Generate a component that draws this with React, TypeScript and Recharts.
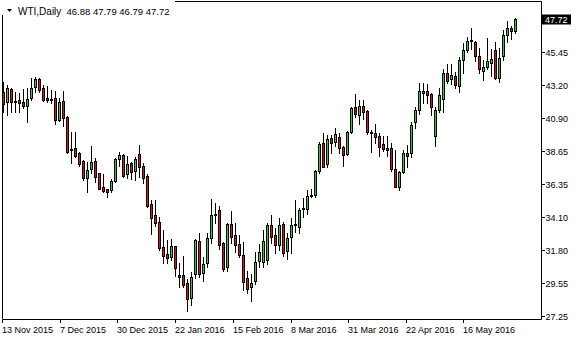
import React from "react";
import { ComposedChart, Bar, XAxis, YAxis, ReferenceArea } from "recharts";

// daily WTI bars (oldest first)
const opens = [
  42.71, 41.98, 42.9, 42.05, 42.16, 42.02, 41.7, 42.25, 43.01, 43.59, 42.99, 42.3, 42.23, 42.25, 40.78, 42.07,
  40.97, 38.76, 38.81, 38.48, 37.93, 36.78, 37.36, 37.93, 37.09, 36.12, 35.98, 35.94, 36.58, 38.05, 38.35, 37.02,
  37.8, 37.27, 38.4, 37.59, 36.9, 34.97, 34.21, 33.73, 32.01, 31.52, 31.32, 32.05, 30.08, 30.08, 29.53, 28.49,
  30.15, 32.42, 30.21, 30.9, 32.63, 34.25, 34.56, 32.28, 30.63, 33.59, 32.83, 32.21, 31.46, 29.87, 29.25, 29.66,
  31.04, 30.97, 31.11, 33.52, 32.83, 32.14, 33.59, 31.73, 32.7, 33.54, 33.39, 34.66, 34.63, 35.52, 35.59, 37.24,
  39.17, 37.73, 39.52, 39.24, 39.59, 38.9, 38.42, 39.93, 41.66, 41.1, 41.72, 41.38, 39.93, 39.86, 39.66, 39.1,
  38.83, 38.83, 37.38, 36.14, 37.18, 38.48, 38.48, 40.62, 41.45, 42.76, 42.76, 42.55, 39.66, 41.45, 42.21, 44.0,
  43.58, 43.79, 43.1, 44.89, 45.58, 46.2, 46.14, 45.17, 44.14, 44.41, 44.69, 45.58, 43.65, 45.17, 46.62, 47.1,
  46.88,
];
const highs = [
  43.4, 43.17, 42.99, 42.71, 42.6, 42.9, 42.99, 43.67, 43.74, 43.67, 43.17, 43.12, 42.83, 42.76, 42.25, 42.76,
  41.06, 39.95, 39.95, 38.58, 38.0, 37.89, 38.97, 38.12, 37.13, 37.04, 36.02, 36.67, 38.12, 38.58, 38.42, 38.28,
  37.86, 38.23, 39.04, 37.78, 37.04, 35.25, 35.25, 34.07, 33.18, 32.49, 32.56, 32.07, 30.9, 31.39, 29.8, 30.28,
  32.56, 32.97, 31.32, 32.97, 35.31, 35.04, 34.83, 32.35, 33.66, 34.49, 33.66, 32.83, 32.35, 30.35, 30.15, 31.66,
  32.21, 33.18, 33.66, 34.21, 33.32, 34.0, 33.73, 32.97, 34.0, 35.25, 34.7, 35.38, 35.94, 36.0, 37.31, 39.24,
  39.86, 39.72, 39.72, 40.21, 39.86, 38.97, 40.0, 41.66, 42.55, 42.14, 42.14, 41.45, 40.07, 40.48, 39.86, 39.66,
  39.66, 39.17, 38.69, 37.24, 38.69, 39.04, 40.62, 41.66, 43.31, 43.31, 43.24, 42.62, 41.66, 42.97, 44.27, 44.62,
  44.62, 44.07, 45.1, 46.07, 46.48, 47.1, 46.2, 45.72, 44.89, 46.41, 45.65, 46.14, 45.72, 46.96, 47.58, 47.24,
  47.79,
];
const lows = [
  41.33, 41.1, 41.33, 41.33, 41.29, 41.57, 40.6, 42.12, 42.71, 42.71, 42.07, 41.98, 41.91, 40.46, 40.69, 40.37,
  38.46, 37.78, 38.23, 37.61, 36.62, 35.82, 37.09, 36.51, 35.98, 35.82, 35.47, 35.8, 36.47, 37.59, 36.85, 36.74,
  36.67, 36.62, 36.85, 36.44, 34.76, 32.9, 33.45, 31.8, 30.9, 30.9, 31.11, 30.01, 29.25, 29.25, 27.6, 28.01,
  29.87, 29.94, 29.66, 30.63, 32.28, 33.66, 31.87, 30.35, 30.35, 32.28, 31.66, 31.32, 29.04, 28.84, 28.28, 29.46,
  30.63, 30.63, 30.84, 32.28, 31.59, 31.8, 31.39, 31.18, 31.59, 33.04, 32.97, 34.07, 34.28, 35.45, 35.45, 37.11,
  37.49, 37.52, 38.48, 38.97, 38.48, 37.59, 38.35, 39.86, 40.97, 40.48, 40.83, 39.79, 38.55, 39.17, 38.28, 38.62,
  38.28, 37.24, 36.11, 35.94, 37.11, 37.52, 38.21, 40.21, 41.17, 41.93, 41.93, 41.1, 38.97, 41.31, 41.31, 43.31,
  43.24, 42.97, 42.69, 44.0, 45.45, 45.65, 44.83, 44.0, 43.52, 44.27, 43.79, 43.62, 43.38, 44.89, 46.14, 46.34,
  46.79,
];
const closes = [
  41.84, 42.94, 41.98, 42.0, 41.93, 41.7, 42.21, 42.94, 43.59, 42.81, 42.12, 42.12, 42.12, 40.74, 42.02, 40.88,
  38.58, 38.67, 38.26, 37.71, 36.78, 37.31, 37.86, 36.85, 36.02, 35.89, 35.82, 36.56, 38.05, 38.33, 36.9, 37.73,
  37.2, 38.05, 37.5, 36.78, 34.83, 34.0, 33.66, 31.94, 31.39, 31.25, 32.07, 30.56, 29.94, 29.39, 28.42, 29.94,
  32.49, 30.15, 30.84, 32.63, 34.21, 34.21, 32.14, 30.49, 33.59, 32.7, 32.14, 31.46, 29.59, 29.11, 29.53, 30.97,
  31.66, 32.42, 33.52, 32.7, 32.14, 33.52, 31.59, 32.63, 33.52, 33.57, 34.56, 34.68, 35.52, 35.58, 37.24, 39.1,
  37.52, 39.45, 39.17, 39.79, 38.83, 38.35, 39.93, 41.59, 41.17, 41.72, 41.31, 39.93, 39.88, 39.59, 38.9, 38.76,
  38.69, 37.38, 36.14, 37.18, 38.48, 38.28, 40.41, 41.45, 42.76, 42.62, 42.48, 41.66, 41.45, 42.48, 44.0, 43.45,
  43.86, 43.17, 44.89, 45.58, 46.2, 46.27, 45.17, 44.27, 44.41, 44.83, 44.96, 43.65, 45.03, 46.62, 47.1, 46.89,
  47.72,
];

// time scale: tick positions (in bars) and their labels
const dateTicks = [-0.2, 14.2, 28.6, 43.0, 57.5, 71.9, 86.3, 100.7, 115.1];
const dateLabels = [
  "13 Nov 2015",
  "7 Dec 2015",
  "30 Dec 2015",
  "22 Jan 2016",
  "15 Feb 2016",
  "8 Mar 2016",
  "31 Mar 2016",
  "22 Apr 2016",
  "16 May 2016",
];
const priceTicks = [27.25, 29.55, 31.8, 34.1, 36.35, 38.65, 40.9, 43.2, 45.45];
const lastPrice = 47.72;
const header = "46.88 47.79 46.79 47.72";

const X_DOMAIN: [number, number] = [-0.25, 134.5];
const Y_DOMAIN: [number, number] = [27.01, 48.93];
const FONT = "'Liberation Sans', Arial, sans-serif";
const UP = "#32CD32";
const DOWN = "#E01010";

const data = opens.map((o, i) => ({
  i,
  range: [lows[i], highs[i]],
  open: o,
  high: highs[i],
  low: lows[i],
  close: closes[i],
}));

function Candle(props: any) {
  const { x, y, width, height, payload } = props;
  if (!payload) return null;
  const { open, close, high, low } = payload;
  const top0 = Math.min(y, y + height);
  const h = Math.abs(height);
  const cx = Math.floor(x + width / 2) + 0.5;
  const span = high - low;
  const toY = (v: number) => (span > 0 ? top0 + ((high - v) / span) * h : top0);
  const yH = Math.round(top0);
  const yL = Math.round(top0 + h);
  const bTop = Math.round(toY(Math.max(open, close)));
  const bBot = Math.round(toY(Math.min(open, close)));
  const up = close >= open;
  return (
    <g>
      <line x1={cx} x2={cx} y1={yH} y2={yL + 1} stroke="#000" strokeWidth={1} />
      <rect x={cx - 1.5} y={bTop} width={3} height={bBot - bTop + 1} fill="#000" />
      {bBot - bTop >= 2 && (
        <rect x={cx - 0.5} y={bTop + 1} width={1} height={bBot - bTop - 1} fill={up ? UP : DOWN} />
      )}
    </g>
  );
}

function DateTick(props: any) {
  const { x, y, index } = props;
  const tx = Math.floor(x) + 0.5;
  return (
    <g>
      <line x1={tx} x2={tx} y1={y + 0.5} y2={y + 3.5} stroke="#000" />
      <text x={tx - 0.5} y={y + 13} fontSize={9} fontFamily={FONT} fill="#000" textAnchor="start">
        {dateLabels[index]}
      </text>
    </g>
  );
}

function PriceTick(props: any) {
  const { x, y, payload } = props;
  const ty = Math.round(y) + 0.5;
  const v = payload.value as number;
  if (v === lastPrice) {
    return (
      <g>
        <rect x={541} y={ty - 5} width={30} height={10} fill="#000" />
        <text x={545} y={ty + 3.5} fontSize={9} fontFamily={FONT} fill="#fff">
          {v.toFixed(2)}
        </text>
      </g>
    );
  }
  return (
    <g>
      <line x1={x + 0.5} x2={x + 3.5} y1={ty} y2={ty} stroke="#000" />
      <text x={x + 4} y={ty + 3.5} fontSize={9} fontFamily={FONT} fill="#000">
        {v.toFixed(2)}
      </text>
    </g>
  );
}

export default function App() {
  return (
    <div style={{ position: "absolute", left: 0, top: 0, width: 580, height: 340, background: "#fff" }}>
      <ComposedChart
        width={580}
        height={340}
        data={data}
        margin={{ top: 1.5, right: 0, bottom: 0, left: 2.5 }}
      >
        <XAxis
          dataKey="i"
          type="number"
          domain={X_DOMAIN}
          allowDataOverflow
          ticks={dateTicks}
          interval={0}
          height={20.5}
          axisLine={false}
          tickLine={false}
          tickSize={0}
          tickMargin={0}
          tick={<DateTick />}
        />
        <YAxis
          orientation="right"
          type="number"
          domain={Y_DOMAIN}
          allowDataOverflow
          ticks={[...priceTicks, lastPrice]}
          interval={0}
          width={38.5}
          axisLine={false}
          tickLine={false}
          tickSize={0}
          tickMargin={0}
          tick={<PriceTick />}
        />
        <ReferenceArea
          x1={X_DOMAIN[0]}
          x2={X_DOMAIN[1]}
          y1={Y_DOMAIN[0]}
          y2={Y_DOMAIN[1]}
          fill="none"
          stroke="#000"
          strokeWidth={1}
          fillOpacity={0}
        />
        <Bar dataKey="range" shape={<Candle />} isAnimationActive={false} />
      </ComposedChart>
      <svg
        width={580}
        height={340}
        style={{ position: "absolute", left: 0, top: 0, pointerEvents: "none" }}
      >
        <rect x={0} y={0} width={175} height={15} fill="#fff" />
        <polygon points="7,9 12,9 9.5,12" fill="#000" />
        <text x={18} y={15} fontSize={10} fontFamily={FONT} fill="#000">
          WTI,Daily
        </text>
        <text x={66.5} y={15} fontSize={9.5} fontFamily={FONT} fill="#000">
          {header}
        </text>
      </svg>
    </div>
  );
}
